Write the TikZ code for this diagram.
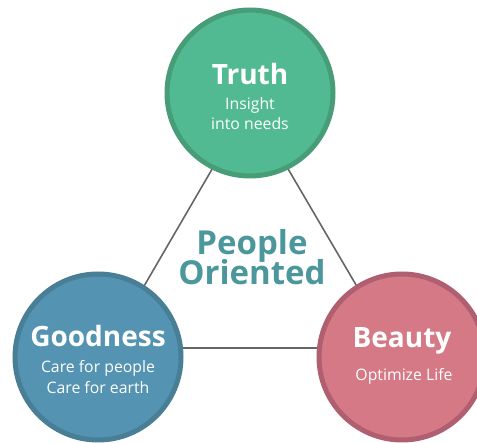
\documentclass[tikz,border=0pt]{standalone}
\usepackage{fontspec}
\setmainfont{Open Sans}
\definecolor{truthfill}{HTML}{52BA92}
\definecolor{truthedge}{HTML}{479D77}
\definecolor{goodfill}{HTML}{5494B2}
\definecolor{goodedge}{HTML}{487E96}
\definecolor{beautyfill}{HTML}{D47985}
\definecolor{beautyedge}{HTML}{B05F70}
\definecolor{centertext}{HTML}{4B979C}
\definecolor{linegray}{HTML}{666666}
\tikzset{
  bubble/.style={circle, minimum size=166pt, line width=5pt, inner sep=0pt},
  head/.style={text=white, font=\bfseries\fontsize{28}{28}\selectfont, anchor=base, inner sep=0pt},
  sub/.style={text=white, font=\fontsize{15.8}{20}\selectfont, anchor=base, inner sep=0pt},
  center/.style={anchor=base, inner sep=0pt, text=centertext, font=\bfseries\fontsize{33}{33}\selectfont},
  link/.style={draw=linegray, line width=1.6pt},
}
\begin{document}
\begin{tikzpicture}[x=1pt,y=-1pt]
\useasboundingbox (0,0) rectangle (477,443);
\clip (0,0) rectangle (477,443);
\coordinate (ta) at (250,104);
\coordinate (ga) at (108,348);
\coordinate (ba) at (393,348);
\draw[link] (ta) -- (ga) -- (ba) -- cycle;
\node[bubble, fill=truthfill, draw=truthedge] (truth) at (250,93) {};
\node[bubble, fill=goodfill, draw=goodedge] (good) at (98,357) {};
\node[bubble, fill=beautyfill, draw=beautyedge] (beauty) at (402,357) {};
\node[head] (truthh) at (250,85) {Truth};
\node[sub] (truth1) at (250,110) {Insight};
\node[sub] (truth2) at (250,130) {into needs};
\node[head] (goodh) at (98,347) {Goodness};
\node[sub] (good1) at (98,373) {Care for people};
\node[sub] (good2) at (98,394) {Care for earth};
\node[head] (beautyh) at (402,348) {Beauty};
\node[sub] (beauty1) at (404,381) {Optimize Life};
\node[center] (c1) at (252,255) {People};
\node[center] (c2) at (252,285) {Oriented};
\end{tikzpicture}
\end{document}
